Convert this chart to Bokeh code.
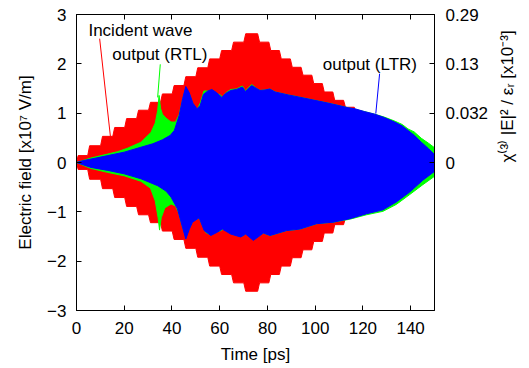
import math
from bokeh.plotting import figure
from bokeh.models import LinearAxis, FixedTicker, Range1d
from bokeh.core.properties import value
from bokeh.embed import file_html
from bokeh.resources import INLINE

# ---------------- data ----------------
x_ticks = [0, 20, 40, 60, 80, 100, 120, 140]
y_ticks = [-3, -2, -1, 0, 1, 2, 3]
right_ticks = [0, 1, 2, 3]
right_tick_labels = ["0", "0.032", "0.13", "0.29"]

# incident wave: staircase envelope (step edges in ps, level per step)
red_edges = [0.3, 5.1, 10.5, 15.6, 20.6, 25.6, 30.6, 35.6, 40.5, 45.4, 50.4, 55.4, 60.4, 65.4, 70.5,
             76.3, 81.0, 85.4, 90.0, 94.5, 99.0, 103.4, 107.8, 112.3, 116.8, 121.3, 125.8, 130.3,
             134.8, 139.3, 143.8, 148.0]
red_levels = [0.14, 0.34, 0.53, 0.71, 0.89, 1.06, 1.22, 1.39, 1.56, 1.74, 1.92, 2.10, 2.27, 2.44,
              2.61,
              2.44, 2.27, 2.10, 1.93, 1.77, 1.60, 1.43, 1.26, 1.12, 0.96, 0.80, 0.64, 0.48, 0.32,
              0.16, 0.05]

# output (LTR), blue
blue_up_t = [0, 3, 6.1, 13.1, 20, 27, 32, 36, 39.3, 41, 43, 44.5, 45.8, 47.2, 48.8, 50.5, 51.8,
             53.2, 55, 56.7, 58.6, 60.9, 62.5, 64.6, 67, 69.5, 70.8, 73.4, 75.5, 76.9, 79, 81,
             83.2, 88.7, 92.9, 99.9, 106.8, 113.8, 116.6, 120.8, 124.9, 129, 133.3, 136.5, 138.9,
             141.5, 144.5, 147.5, 150]
blue_up = [0, 0.04, 0.07, 0.14, 0.21, 0.31, 0.38, 0.46, 0.55, 0.65, 0.95, 1.30, 1.54, 1.42, 1.20,
           1.09, 1.15, 1.38, 1.45, 1.48, 1.42, 1.32, 1.40, 1.46, 1.48, 1.53, 1.44, 1.56, 1.50,
           1.46, 1.47, 1.49, 1.43, 1.37, 1.33, 1.26, 1.19, 1.11, 1.09, 1.03, 0.98, 0.91, 0.82,
           0.74, 0.65, 0.55, 0.41, 0.28, 0.16]
blue_lo_t = [0, 3, 6.1, 13.1, 20, 27, 34, 37.5, 39.6, 42.3, 44.4, 45.8, 47.3, 48.6, 51.4, 53.5,
             56.3, 59.1, 61.1, 64.6, 68.8, 70.9, 74.1, 78.3, 81.1, 88, 93.6, 100.6, 107.5, 114.5,
             121.5, 128.4, 134, 139.6, 145.1, 150]
blue_lo = [0, -0.05, -0.10, -0.16, -0.23, -0.33, -0.47, -0.58, -0.70, -0.94, -1.31, -1.55, -1.35,
           -1.21, -1.12, -1.38, -1.48, -1.41, -1.35, -1.45, -1.51, -1.45, -1.58, -1.43, -1.48,
           -1.38, -1.35, -1.24, -1.21, -1.14, -1.04, -0.96, -0.80, -0.60, -0.36, -0.18]

# output (RTL), green
green_up_t = [0, 6, 13, 17.3, 21.4, 27, 31.2, 33.0, 34.0, 34.6, 35.2, 36.0, 37.5, 39.6, 41.5, 43,
              44.5, 45.8, 47.2, 48.8, 50.5, 51.8, 53.4, 55, 56.7, 58.6, 60.2, 61.2, 62.5, 64.6,
              67, 69.5, 70.8, 73.4, 75.5, 76.9, 79, 81, 83.2, 88.7, 92.9, 99.9, 106.8, 113.8,
              120.8, 124.9, 129, 133.3, 136.5, 138.9, 141.5, 144.5, 147.5, 150]
green_up = [0, 0.09, 0.17, 0.22, 0.29, 0.41, 0.61, 0.80, 1.05, 1.36, 1.10, 0.98, 0.90, 0.82, 0.82,
            0.97, 1.28, 1.50, 1.40, 1.18, 1.07, 1.20, 1.45, 1.45, 1.47, 1.40, 1.37, 1.33, 1.41,
            1.48, 1.49, 1.55, 1.45, 1.58, 1.50, 1.46, 1.47, 1.49, 1.43, 1.37, 1.33, 1.26, 1.19,
            1.11, 1.03, 0.98, 0.92, 0.84, 0.77, 0.68, 0.62, 0.49, 0.39, 0.30]
green_lo_t = [0, 6, 13, 20, 27, 31, 33, 34.2, 34.8, 35.5, 37, 39.6, 41.5, 42.8, 44.4, 45.8, 47.3,
              48.6, 51.4, 53.0, 54.2, 56.3, 59.1, 60.6, 61.8, 64.6, 68.8, 69.8, 70.9, 74.1, 78.3,
              81.1, 88, 93.6, 100.6, 107.5, 114.5, 121.5, 128.4, 134, 139.6, 145.1, 150]
green_lo = [0, -0.12, -0.20, -0.27, -0.38, -0.52, -0.78, -1.12, -1.37, -1.12, -0.92, -0.84, -0.88,
            -1.02, -1.30, -1.50, -1.33, -1.20, -1.12, -1.30, -1.42, -1.47, -1.40, -1.38, -1.34,
            -1.44, -1.50, -1.48, -1.44, -1.56, -1.43, -1.48, -1.38, -1.35, -1.24, -1.21, -1.15,
            -1.06, -0.99, -0.85, -0.65, -0.45, -0.28]

labels = ["Incident wave", "output (RTL)", "output (LTR)"]

# ---------------- layout constants ----------------
FONT = "Liberation Sans"
FS = "17px"
label_pos = [(5.0, 2.68), (15.0, 2.18), (103.2, 1.98)]
leaders = [((9.7, 14.2), (2.51, 0.53), "#ff0000"),
           ((35.1, 34.0), (1.99, 1.32), "#00ff00"),
           ((127.0, 125.4), (1.80, 0.99), "#0000ff")]

assert len(red_edges) == len(red_levels) + 1
assert len(blue_up_t) == len(blue_up) and len(blue_lo_t) == len(blue_lo)
assert len(green_up_t) == len(green_up) and len(green_lo_t) == len(green_lo)

p = figure(width=529, height=368, x_range=Range1d(0, 150), y_range=Range1d(-3, 3),
           output_backend="svg", toolbar_location=None,
           min_border_left=76, min_border_right=94, min_border_top=14, min_border_bottom=58)
p.grid.visible = False
p.outline_line_color = "black"
p.outline_line_width = 1
p.background_fill_color = "white"
p.border_fill_color = "white"


def style_axis(ax):
    ax.axis_line_color = "black"
    ax.major_tick_line_color = "black"
    ax.major_tick_in = 5
    ax.major_tick_out = 0
    ax.minor_tick_line_color = None
    ax.major_label_text_color = "black"
    ax.major_label_text_font = FONT
    ax.major_label_text_font_size = FS
    ax.axis_label_text_color = "black"
    ax.axis_label_text_font = FONT
    ax.axis_label_text_font_size = FS
    ax.axis_label_text_font_style = "normal"


xa = p.xaxis[0]
xa.ticker = FixedTicker(ticks=x_ticks)
xa.axis_label = "Time [ps]"
style_axis(xa)
xa.major_label_standoff = 11
xa.axis_label_standoff = 8

ya = p.yaxis[0]
ya.ticker = FixedTicker(ticks=y_ticks)
ya.axis_label = "Electric field [x10\u2077 V/m]"
style_axis(ya)
ya.major_label_standoff = 10
ya.axis_label_standoff = 9

top = LinearAxis(ticker=FixedTicker(ticks=x_ticks))
style_axis(top)
top.major_label_overrides = {t: "" for t in x_ticks}
top.major_label_standoff = 0
p.add_layout(top, "above")

right = LinearAxis(ticker=FixedTicker(ticks=right_ticks))
style_axis(right)
right.major_label_overrides = {t: s for t, s in zip(right_ticks, right_tick_labels)}
right.axis_label = "\u03c7\u207d\u00b3\u207e |E|\u00b2 / \u03b5\u1d63 [x10\u207b\u00b3]"
right.major_label_standoff = 11
right.axis_label_standoff = 16
try:
    right.axis_label_orientation = math.pi / 2
except Exception:
    pass
p.add_layout(right, "right")

# incident wave staircase
d = 0.4
rt, ry = [0.0], [0.0]
for i, lev in enumerate(red_levels):
    rt += [red_edges[i] + d, red_edges[i + 1] - d]
    ry += [lev, lev]
rt += [red_edges[-1] + d, 150.0]
ry += [0.0, 0.0]
p.patch(rt + rt[::-1], ry + [-v for v in ry[::-1]], fill_color="#ff0000",
        line_color="#ff0000", line_width=1)

# output (RTL)
p.patch(green_up_t + green_lo_t[::-1], green_up + green_lo[::-1], fill_color="#00ff00",
        line_color="#00ff00", line_width=1)

# output (LTR)
p.patch(blue_up_t + blue_lo_t[::-1], blue_up + blue_lo[::-1], fill_color="#0000ff",
        line_color="#0000ff", line_width=1)

for xs, ys, c in leaders:
    p.line(list(xs), list(ys), line_color=c, line_width=1)

p.text(x=[q[0] for q in label_pos], y=[q[1] for q in label_pos], text=labels,
       text_font=value(FONT), text_font_size=FS, text_baseline="middle", text_align="left",
       text_color="black")

open("out.html", "w").write(file_html(p, INLINE))
